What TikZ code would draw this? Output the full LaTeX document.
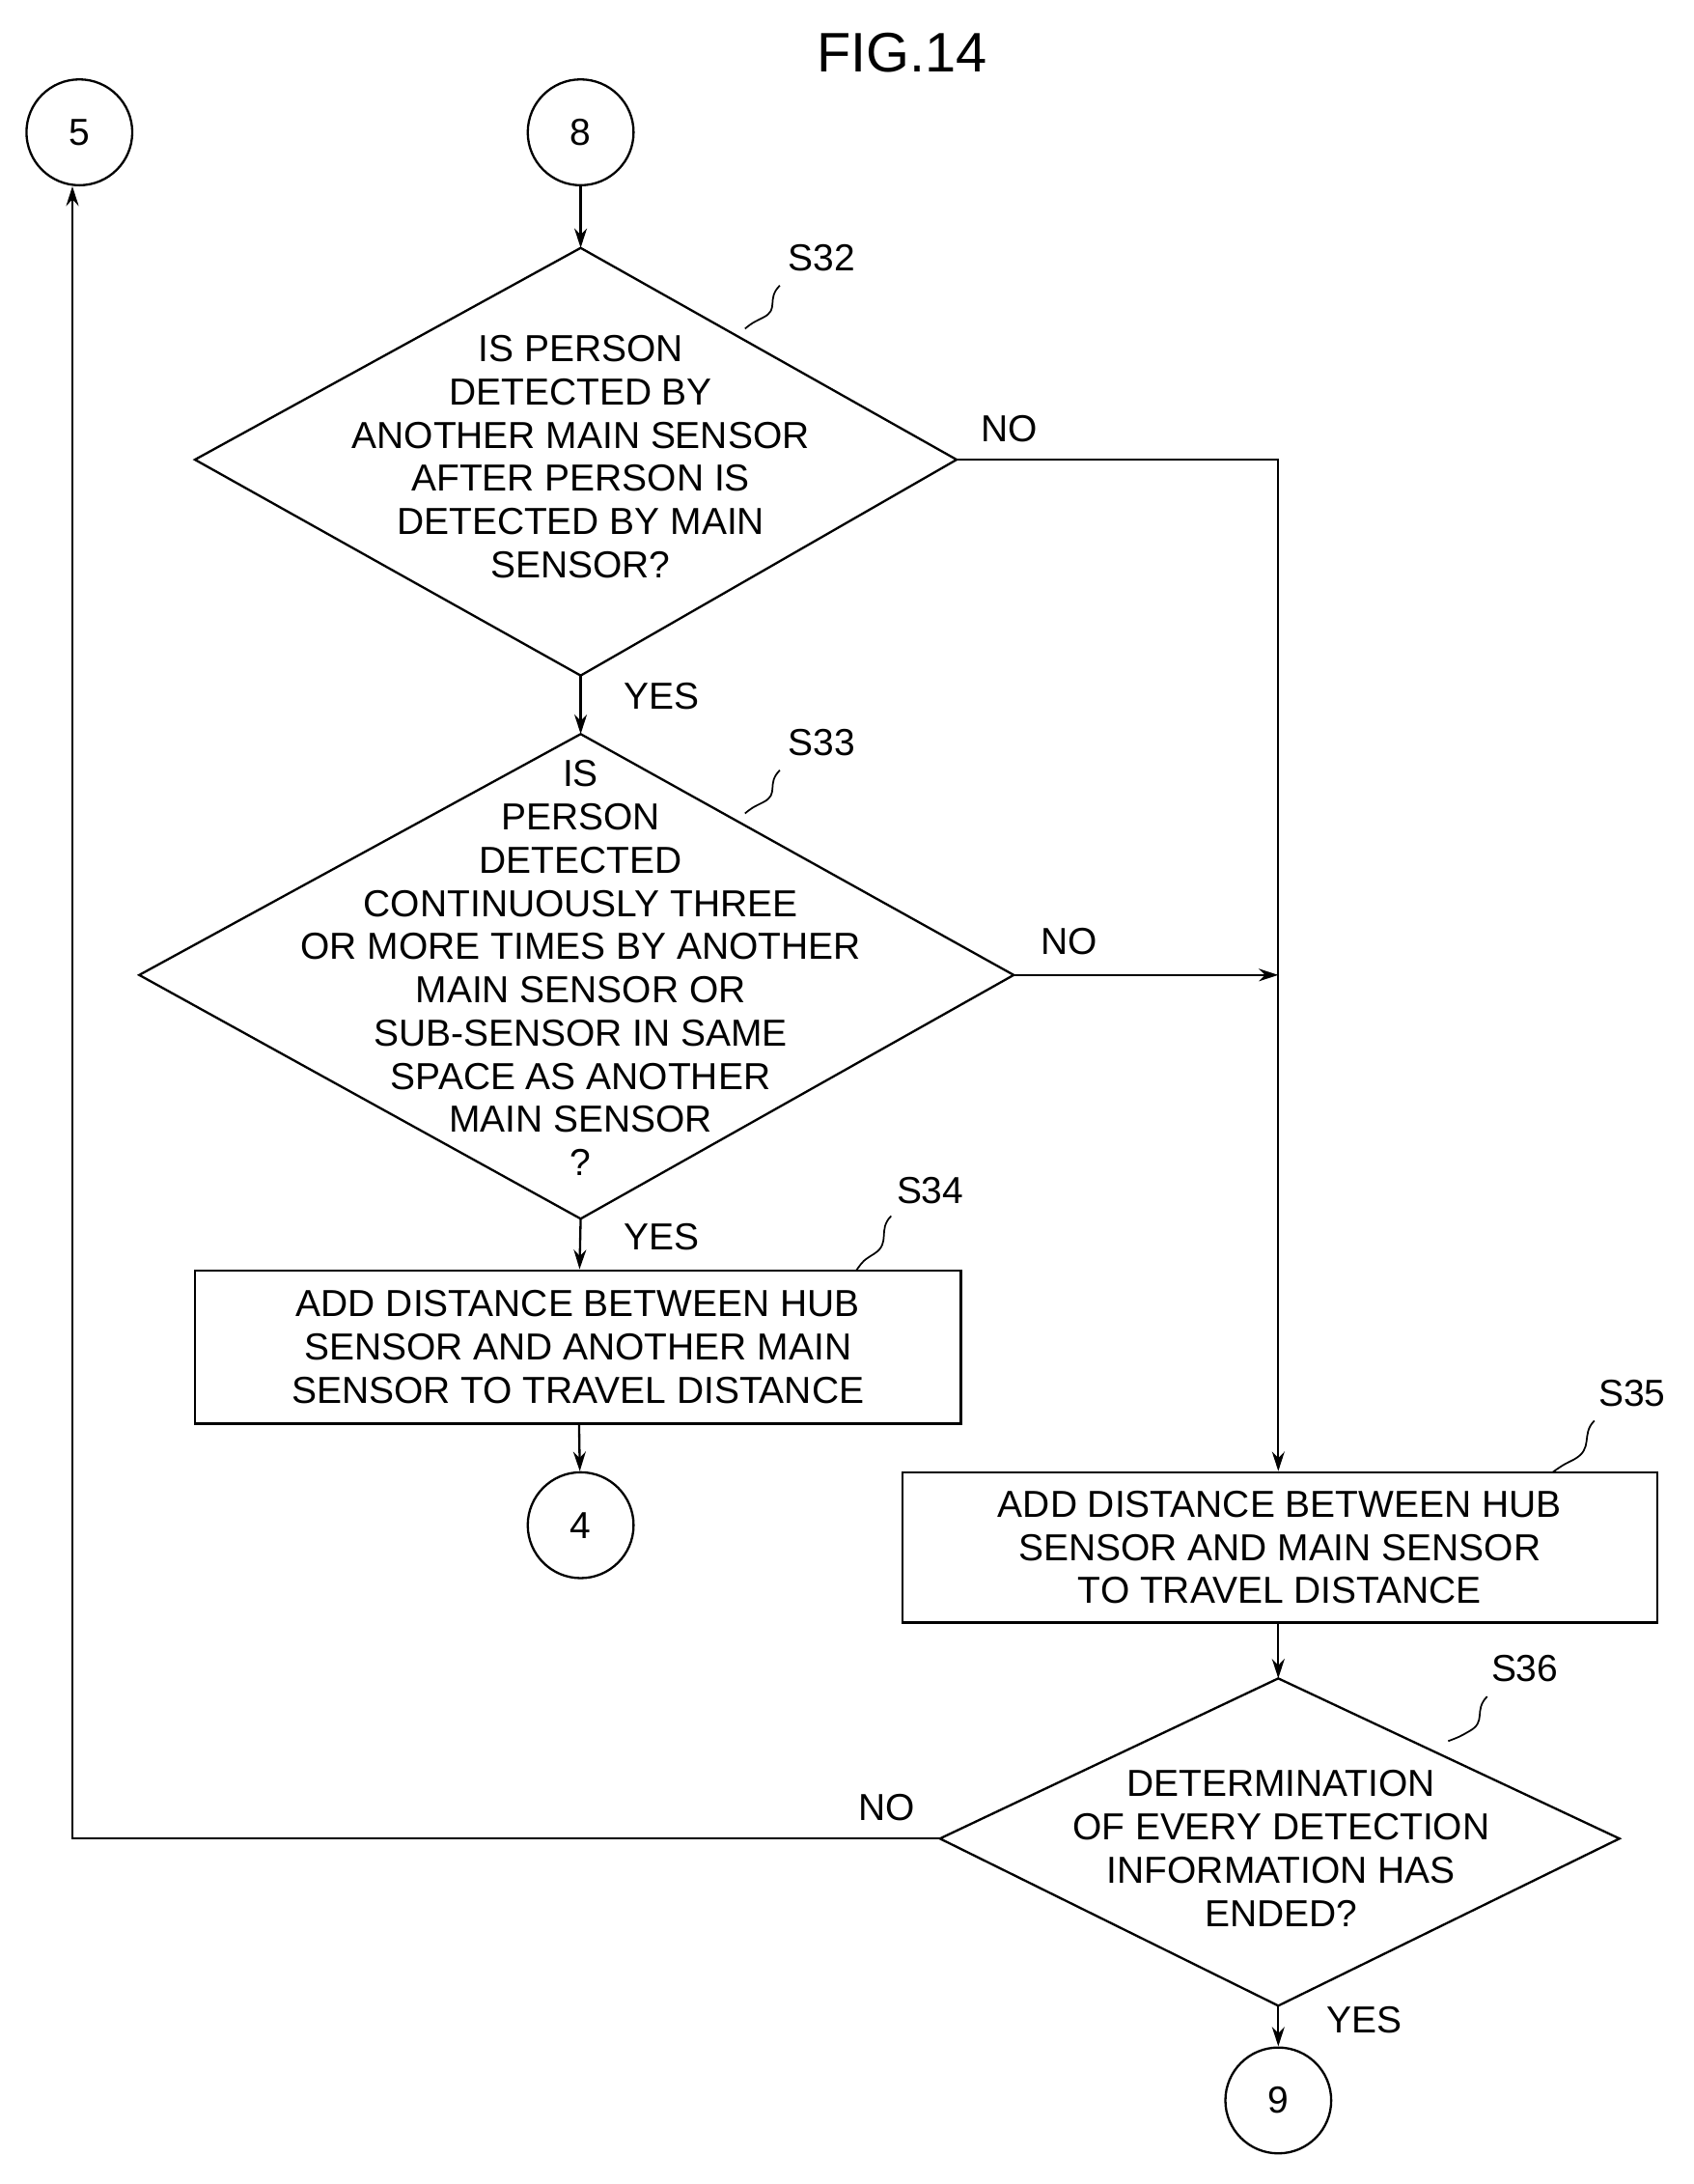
\documentclass[tikz,border=0pt]{standalone}
\usepackage{fontspec}
\setmainfont{Liberation Sans}
\usetikzlibrary{arrows.meta,shapes.geometric}
\begin{document}
\begin{tikzpicture}[x=1pt,y=-1pt,
  every node/.style={font=\fontsize{27}{31}\selectfont},
  ln/.style={line width=1.6pt},
  arr/.style={ln,-{Stealth[length=14pt,width=9pt]}},
  circ/.style={circle,draw,line width=1.6pt,minimum size=76pt,inner sep=0pt},
  txt/.style={align=center,inner sep=0pt},
  sq/.style={line width=1.2pt}]
\useasboundingbox (0,0) rectangle (1216,1568);
\node (title) at (648,38) {\fontsize{40}{40}\selectfont FIG.14};
\node[circ] (c5) at (57,95) {5};
\node[circ] (c8) at (417,95) {8};
% S32
\draw[ln] (417,178) coordinate (d1t) -- (687,330) coordinate (d1r) -- (417,485) coordinate (d1b) -- (140,330) -- cycle;
\node[txt] (t32) at (417,328) {IS PERSON\\DETECTED BY\\ANOTHER MAIN SENSOR\\AFTER PERSON IS\\DETECTED BY MAIN\\SENSOR?};
% S33
\draw[ln] (417,527) coordinate (d2t) -- (728,700) coordinate (d2r) -- (417,875) coordinate (d2b) -- (100,700) -- cycle;
\node[txt] (t33) at (417,695) {IS\\PERSON\\DETECTED\\CONTINUOUSLY THREE\\OR MORE TIMES BY ANOTHER\\MAIN SENSOR OR\\SUB-SENSOR IN SAME\\SPACE AS ANOTHER\\MAIN SENSOR\\?};
% S34
\node[draw,ln,minimum width=550pt,minimum height=110pt,txt] (b34) at (415,967) {ADD DISTANCE BETWEEN HUB\\SENSOR AND ANOTHER MAIN\\SENSOR TO TRAVEL DISTANCE};
\node[circ] (c4) at (417,1095) {4};
% S35
\node[draw,ln,minimum width=542pt,minimum height=108pt,txt] (b35) at (919,1111) {ADD DISTANCE BETWEEN HUB\\SENSOR AND MAIN SENSOR\\TO TRAVEL DISTANCE};
% S36
\draw[ln] (918,1205) coordinate (d3t) -- (1163,1320) -- (918,1440) coordinate (d3b) -- (675,1320) coordinate (d3l) -- cycle;
\node[txt] (t36) at (920,1327) {DETERMINATION\\OF EVERY DETECTION\\INFORMATION HAS\\ENDED?};
\node[circ] (c9) at (918,1508) {9};
% connectors
\draw[arr] (c8) -- (d1t);
\draw[arr] (d1b) -- (d2t);
\draw[arr] (d2b) -- (b34);
\draw[arr] (b34) -- (c4);
\coordinate (j1) at (918,330);
\coordinate (j2) at (918,700);
\draw[arr] (d1r) -- (j1) -- (b35.north -| j1);
\draw[arr] (d2r) -- (j2);
\draw[arr] (b35.south -| d3t) -- (d3t);
\draw[arr] (d3b) -- (c9);
\coordinate (j3) at (52,1320);
\draw[arr] (d3l) -- (j3) -- (c5.south -| j3);
% labels
\node (no1) at (725,308) {NO};
\node (yes1) at (475,500) {YES};
\node (no2) at (768,676) {NO};
\node (yes2) at (475,888) {YES};
\node (no3) at (637,1298) {NO};
\node (yes3) at (980,1450) {YES};
\node (s32) at (590,185) {S32};
\node (s33) at (590,533) {S33};
\node (s34) at (668,855) {S34};
\node (s35) at (1172,1000) {S35};
\node (s36) at (1095,1198) {S36};
\draw[sq] (560,205) .. controls (550,215) and (560,222) .. (548,228) .. controls (540,232) .. (535,236);
\draw[sq] (560,553) .. controls (550,563) and (560,570) .. (548,576) .. controls (540,580) .. (535,584);
\draw[sq] (640,873) .. controls (630,883) and (640,892) .. (628,900) .. controls (620,905) .. (615,912);
\draw[sq] (1145,1020) .. controls (1135,1030) and (1145,1040) .. (1130,1048) .. controls (1122,1052) .. (1115,1057);
\draw[sq] (1068,1218) .. controls (1058,1228) and (1068,1236) .. (1055,1243) .. controls (1048,1247) .. (1040,1250);
\end{tikzpicture}
\end{document}
